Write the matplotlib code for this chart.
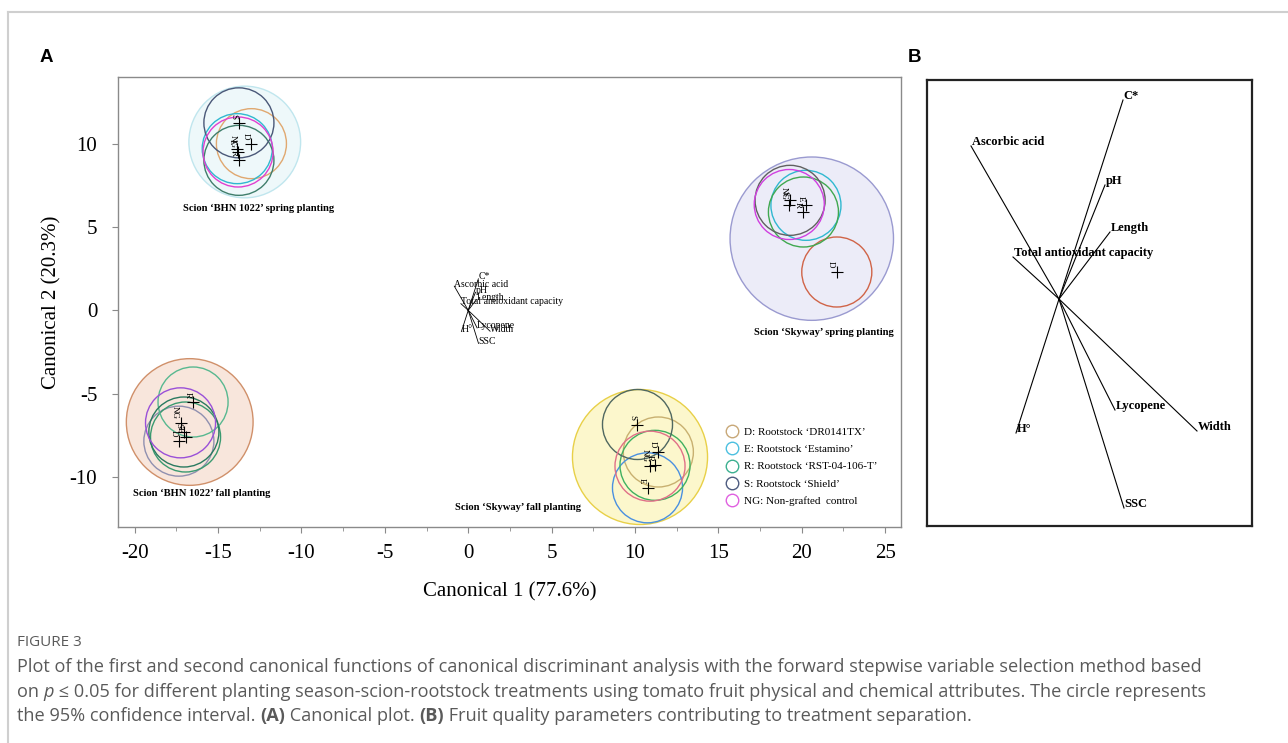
import matplotlib
matplotlib.use('Agg')
import matplotlib.pyplot as plt
from matplotlib.patches import Circle
from matplotlib.lines import Line2D

# ---- data ----
treat_codes = ['D', 'E', 'R', 'S', 'NG']
treat_names = ["D: Rootstock \u2018DR0141TX\u2019",
               "E: Rootstock \u2018Estamino\u2019",
               "R: Rootstock \u2018RST-04-106-T\u2019",
               "S: Rootstock \u2018Shield\u2019",
               "NG: Non-grafted  control"]

group_names = ["Scion \u2018BHN 1022\u2019 spring planting",
               "Scion \u2018Skyway\u2019 spring planting",
               "Scion \u2018BHN 1022\u2019 fall planting",
               "Scion \u2018Skyway\u2019 fall planting"]
group_x = [-13.4, 20.6, -16.7, 10.3]
group_y = [10.1, 4.3, -6.7, -8.8]
group_r = [3.35, 4.9, 3.8, 4.05]

# treatment means (canonical 1 / canonical 2), order D, E, R, S, NG
mean_x = [[-13.0, -13.85, -13.75, -13.75, -13.8],
          [22.1, 20.25, 20.1, 19.3, 19.25],
          [-17.35, -16.95, -16.5, -17.05, -17.25],
          [11.4, 10.75, 11.2, 10.15, 10.9]]
mean_y = [[10.0, 9.7, 9.0, 11.25, 9.5],
          [2.3, 6.3, 5.9, 6.6, 6.35],
          [-7.85, -7.6, -5.5, -7.3, -6.75],
          [-8.5, -10.65, -9.3, -6.85, -9.35]]
ci_radius = 2.1

# canonical structure of the fruit attributes
var_names = ['C*', 'Ascorbic acid', 'pH', 'Length', 'Total antioxidant capacity',
             'Lycopene', 'Width', 'H\u00b0', 'SSC']
var_x = [0.32, -0.44, 0.23, 0.255, -0.23, 0.28, 0.69, -0.215, 0.325]
var_y = [0.995, 0.765, 0.57, 0.335, 0.21, -0.555, -0.66, -0.67, -1.045]
biplot_scale = 1.9

# ---- styles ----
W, H = 1288, 743
plt.rcParams['font.family'] = 'serif'
plt.rcParams['font.serif'] = ['Liberation Serif', 'DejaVu Serif']
plt.rcParams['axes.unicode_minus'] = False
legend_colors = ['#c8a878', '#4cc0e0', '#3cb090', '#4e5c80', '#e060e0']
circle_colors = [['#e0a870', '#30b8d0', '#407e6c', '#4a5878', '#e040d0'],
                 ['#d06448', '#30b8d0', '#40a850', '#606060', '#d040e0'],
                 ['#9090b0', '#3a9a70', '#58b890', '#2a7a60', '#9a50d8'],
                 ['#c8b070', '#4a90e0', '#40b060', '#506860', '#e07088']]
group_fill = ['#eef8fa', '#ececf8', '#f8e6dc', '#fcf7cc']
group_edge = ['#c0e6ee', '#9a9ad0', '#d0906a', '#e8d048']
label_x = [-12.6, 21.3, -16.0, 3.0]
label_y = [6.1, -1.3, -11.0, -11.8]

fig = plt.figure(figsize=(W / 100, H / 100), dpi=100)

# light frame of the page
fig.add_artist(Line2D([8 / W, 1], [1 - 12 / H, 1 - 12 / H], color='#cfcfcf', lw=1.5))
fig.add_artist(Line2D([8 / W, 8 / W], [0, 1 - 12 / H], color='#cfcfcf', lw=1.5))

# ---- panel A ----
ax = fig.add_axes([118 / W, 1 - 527 / H, 783 / W, 450 / H])
ax.set_xlim(-21, 25.95)
ax.set_ylim(-13, 14)

for g in range(len(group_names)):
    ax.add_patch(Circle((group_x[g], group_y[g]), group_r[g], facecolor=group_fill[g],
                        edgecolor=group_edge[g], lw=1.0, zorder=1))
    for t in range(len(treat_codes)):
        ax.add_patch(Circle((mean_x[g][t], mean_y[g][t]), ci_radius, fill=False,
                            edgecolor=circle_colors[g][t], lw=1.0, zorder=2))
        ax.plot(mean_x[g][t], mean_y[g][t], marker='+', color='black', ms=8, mew=0.8, zorder=4)
        ax.annotate(treat_codes[t], (mean_x[g][t], mean_y[g][t]), xytext=(-4, 3),
                    textcoords='offset points', fontsize=6.5, rotation=-90,
                    ha='center', va='bottom', zorder=4)
    ax.text(label_x[g], label_y[g], group_names[g], fontsize=7.6, fontweight='bold',
            ha='center', va='center', zorder=5)

# small biplot at the origin
for i in range(len(var_names)):
    vx, vy = var_x[i] * biplot_scale, var_y[i] * biplot_scale
    ax.plot([0, vx], [0, vy], color='black', lw=0.6, zorder=3)
    ax.annotate(var_names[i], (vx, vy), xytext=(0, 1.5), textcoords='offset points',
                fontsize=7, ha='left', va='center', zorder=3)

for sp in ax.spines.values():
    sp.set_color('#8a8a8a')
    sp.set_linewidth(1.0)
ax.set_xticks(range(-20, 26, 5))
ax.set_xticks([x + 2.5 for x in range(-20, 25, 5)], minor=True)
ax.set_yticks(range(-10, 11, 5))
ax.tick_params(axis='both', which='major', direction='out', length=4, color='#8a8a8a',
               labelsize=15)
ax.tick_params(axis='x', which='major', pad=8)
ax.tick_params(axis='y', which='major', pad=11)
ax.tick_params(axis='x', which='minor', direction='out', length=3, color='#8a8a8a')
ax.set_xlabel('Canonical 1 (77.6%)', fontsize=15, labelpad=14)
ax.set_ylabel('Canonical 2 (20.3%)', fontsize=15, labelpad=6)

handles = [Line2D([], [], marker='o', ls='none', ms=9, mfc='none', mec=c, mew=1.0)
           for c in legend_colors]
ax.legend(handles, treat_names, loc='upper left', bbox_to_anchor=(0.77, 0.232),
          frameon=False, fontsize=8, handletextpad=0.5, labelspacing=0.68,
          borderaxespad=0, handlelength=1.2)

# ---- panel B ----
bx = fig.add_axes([927 / W, 1 - 526 / H, 325 / W, 446 / H])
bx.set_xlim(-0.66, 0.965)
bx.set_ylim(-1.135, 1.095)
bx.set_xticks([])
bx.set_yticks([])
for sp in bx.spines.values():
    sp.set_color('#222222')
    sp.set_linewidth(1.6)
for i in range(len(var_names)):
    bx.plot([0, var_x[i]], [0, var_y[i]], color='black', lw=0.8)
    bx.annotate(var_names[i], (var_x[i], var_y[i]), xytext=(0.5, 3), textcoords='offset points',
                fontsize=9, fontweight='bold', ha='left', va='center')

# panel letters
fig.text(40 / W, 1 - 57 / H, 'A', fontsize=13.5, fontweight='bold',
         family='Liberation Sans', va='center', ha='left')
fig.text(908 / W, 1 - 57 / H, 'B', fontsize=13.5, fontweight='bold',
         family='Liberation Sans', va='center', ha='left')

# ---- caption ----
cap_family = ['Open Sans', 'DejaVu Sans']
cap_color = '#5a5a5a'


def caption_line(y_px, runs, size=13.1):
    """ write one caption line made of several styled pieces """
    renderer = fig.canvas.get_renderer()
    x = 17
    for txt, style in runs:
        t = fig.text(x / W, 1 - y_px / H, txt, fontsize=size, color=cap_color,
                     family=cap_family, va='baseline', ha='left', **style)
        x += t.get_window_extent(renderer=renderer).width


caption_line(646, [('FIGURE 3', {})], size=11)
caption_line(672, [('Plot of the first and second canonical functions of canonical discriminant '
                    'analysis with the forward stepwise variable selection method based', {})])
caption_line(697, [('on ', {}), ('p', {'style': 'italic'}),
                   (' \u2264 0.05 for different planting season-scion-rootstock treatments using '
                    'tomato fruit physical and chemical attributes. The circle represents', {})])
caption_line(721, [('the 95% confidence interval. ', {}), ('(A)', {'weight': 'bold'}),
                   (' Canonical plot. ', {}), ('(B)', {'weight': 'bold'}),
                   (' Fruit quality parameters contributing to treatment separation.', {})])

fig.savefig('out.png', dpi=100)
